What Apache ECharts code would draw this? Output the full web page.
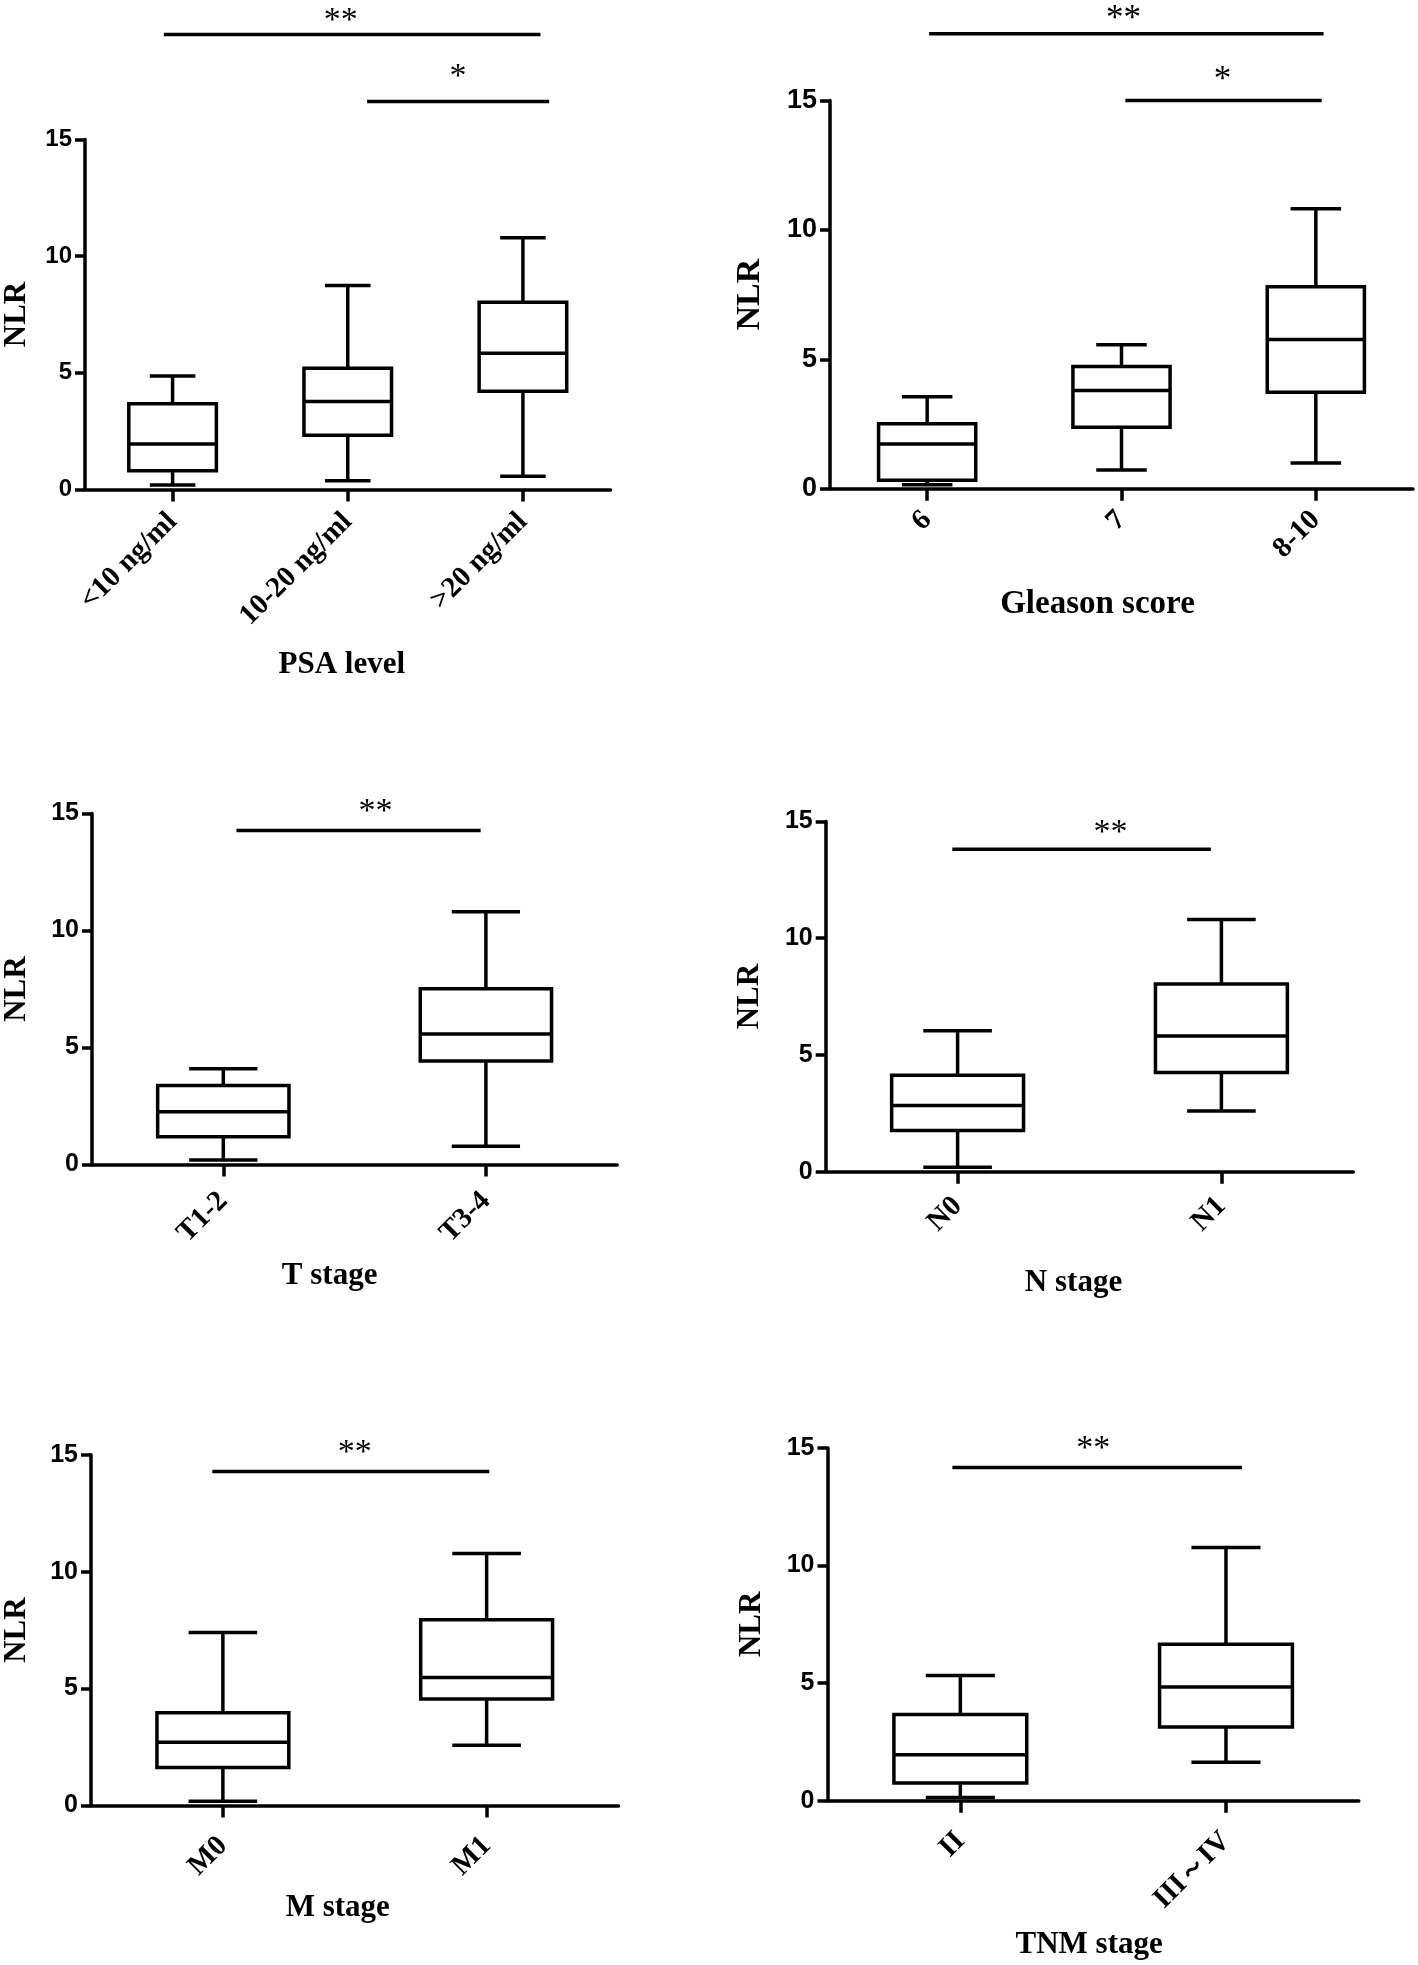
<!DOCTYPE html>
<html>
<head>
<meta charset="utf-8">
<script src="https://cdn.jsdelivr.net/npm/echarts@6/dist/echarts.min.js"></script>
<style>
html, body { margin: 0; padding: 0; background: #fff; }
#chart { width: 1418px; height: 1965px; }
</style>
</head>
<body>
<div id="chart"></div>
<script>
// ---------- DATA ----------
const yTickValues = [0, 5, 10, 15];
const yAxisTitle = 'NLR';

// box data: [lower whisker, Q1, median, Q3, upper whisker]
const psaCategories = ['<10 ng/ml', '10-20 ng/ml', '>20 ng/ml'];
const psaBoxes = [
  [0.19, 0.80, 1.95, 3.67, 4.86],
  [0.38, 2.33, 3.77, 5.20, 8.74],
  [0.57, 4.21, 5.84, 8.02, 10.79]
];
const gleasonCategories = ['6', '7', '8-10'];
const gleasonBoxes = [
  [0.16, 0.33, 1.73, 2.51, 3.56],
  [0.73, 2.38, 3.80, 4.72, 5.56],
  [1.00, 3.73, 5.77, 7.81, 10.82]
];
const tCategories = ['T1-2', 'T3-4'];
const tBoxes = [
  [0.20, 1.19, 2.26, 3.38, 4.10],
  [0.78, 4.43, 5.58, 7.51, 10.80]
];
const nCategories = ['N0', 'N1'];
const nBoxes = [
  [0.20, 1.77, 2.84, 4.13, 6.04],
  [2.60, 4.25, 5.81, 8.04, 10.80]
];
const mCategories = ['M0', 'M1'];
const mBoxes = [
  [0.18, 1.62, 2.70, 3.96, 7.40],
  [2.57, 4.55, 5.47, 7.94, 10.78]
];
const tnmCategories = ['II', 'III～IV'];
const tnmBoxes = [
  [0.14, 0.75, 1.95, 3.66, 5.32],
  [1.64, 3.13, 4.83, 6.65, 10.76]
];

// significance annotations (in data units: category index span, NLR level)
const psaSig = [
  { from: -0.05, to: 2.10, at: 19.5, mid: 0.96, labelAt: 20.37, label: '**' },
  { from: 1.11, to: 2.15, at: 16.63, mid: 1.63, labelAt: 17.95, label: '*' }
];
const gleasonSig = [
  { from: 0.01, to: 2.04, at: 17.58, mid: 1.01, labelAt: 18.4, label: '**' },
  { from: 1.02, to: 2.03, at: 15.0, mid: 1.52, labelAt: 16.02, label: '*' }
];
const tSig = [{ from: 0.05, to: 0.98, at: 14.27, mid: 0.58, labelAt: 15.34, label: '**' }];
const nSig = [{ from: -0.02, to: 0.96, at: 13.81, mid: 0.58, labelAt: 14.8, label: '**' }];
const mSig = [{ from: -0.04, to: 1.01, at: 14.29, mid: 0.50, labelAt: 15.35, label: '**' }];
const tnmSig = [{ from: -0.03, to: 1.06, at: 14.17, mid: 0.50, labelAt: 15.23, label: '**' }];

// ---------- STYLE / LAYOUT ----------
const SERIF = "'Liberation Serif', 'Times New Roman', serif";
const SANS = "'Liberation Sans', Arial, sans-serif";
const LW = 3.5;

const panels = [
  { title: 'PSA level', cats: psaCategories, boxes: psaBoxes, sig: psaSig,
    grid: { left: 83, top: 139.5, width: 527.5, height: 350 },
    tickFont: 24, catFont: 29, nameFont: 31, yNameFont: 31, starFont: 34,
    yNameGap: 53, xNameGap: 160, xNameShift: -6, labelMargin: 28 },
  { title: 'Gleason score', cats: gleasonCategories, boxes: gleasonBoxes, sig: gleasonSig,
    grid: { left: 830, top: 100.5, width: 583, height: 388.3 },
    tickFont: 27, catFont: 29, nameFont: 33, yNameFont: 34, starFont: 35,
    yNameGap: 63, xNameGap: 99, xNameShift: -24, labelMargin: 27 },
  { title: 'T stage', cats: tCategories, boxes: tBoxes, sig: tSig,
    grid: { left: 89.5, top: 813.5, width: 527.7, height: 351.1 },
    tickFont: 25, catFont: 29, nameFont: 31, yNameFont: 31, starFont: 34,
    yNameGap: 60, xNameGap: 96, xNameShift: -25, labelMargin: 32 },
  { title: 'N stage', cats: nCategories, boxes: nBoxes, sig: nSig,
    grid: { left: 825.7, top: 821.4, width: 527.6, height: 350.4 },
    tickFont: 25, catFont: 29, nameFont: 31, yNameFont: 31, starFont: 34,
    yNameGap: 60.5, xNameGap: 96, xNameShift: -16, labelMargin: 30 },
  { title: 'M stage', cats: mCategories, boxes: mBoxes, sig: mSig,
    grid: { left: 89.5, top: 1454.8, width: 529, height: 350.6 },
    tickFont: 25, catFont: 29, nameFont: 31, yNameFont: 31, starFont: 34,
    yNameGap: 59, xNameGap: 87, xNameShift: -17, labelMargin: 36 },
  { title: 'TNM stage', cats: tnmCategories, boxes: tnmBoxes, sig: tnmSig,
    grid: { left: 827.5, top: 1447.9, width: 531.3, height: 352.8 },
    tickFont: 25, catFont: 29, nameFont: 31, yNameFont: 31, starFont: 34,
    yNameGap: 60, xNameGap: 129, xNameShift: -4, labelMargin: 36 }
];

function renderBox(params, api) {
  const idx = api.value(0);
  const lo = api.coord([idx, api.value(1)]);
  const q1 = api.coord([idx, api.value(2)]);
  const med = api.coord([idx, api.value(3)]);
  const q3 = api.coord([idx, api.value(4)]);
  const hi = api.coord([idx, api.value(5)]);
  const band = api.size([1, 0])[0];
  const hw = band * 0.25, cw = band * 0.13;
  const x = lo[0];
  const st = { stroke: '#000', lineWidth: LW, fill: null };
  return {
    type: 'group',
    children: [
      { type: 'line', shape: { x1: x, y1: hi[1], x2: x, y2: q3[1] }, style: st },
      { type: 'line', shape: { x1: x, y1: q1[1], x2: x, y2: lo[1] }, style: st },
      { type: 'line', shape: { x1: x - cw, y1: hi[1], x2: x + cw, y2: hi[1] }, style: st },
      { type: 'line', shape: { x1: x - cw, y1: lo[1], x2: x + cw, y2: lo[1] }, style: st },
      { type: 'rect', shape: { x: x - hw, y: q3[1], width: 2 * hw, height: q1[1] - q3[1] },
        style: { stroke: '#000', lineWidth: LW, fill: '#fff' } },
      { type: 'line', shape: { x1: x - hw, y1: med[1], x2: x + hw, y2: med[1] }, style: st }
    ]
  };
}

function makeSigRenderer(p) {
  return function (params, api) {
    const s = p.sig[params.dataIndex];
    const band = api.size([1, 0])[0];
    const base = api.coord([0, s.at]);
    const lab = api.coord([0, s.labelAt]);
    const x0 = base[0];
    return {
      type: 'group',
      children: [
        { type: 'line', shape: { x1: x0 + s.from * band, y1: base[1], x2: x0 + s.to * band, y2: base[1] },
          style: { stroke: '#000', lineWidth: LW } },
        { type: 'text', x: x0 + s.mid * band, y: lab[1] + p.starFont * 0.2,
          style: { text: s.label, font: 'normal ' + p.starFont + 'px ' + SERIF, fill: '#000',
                   align: 'center', verticalAlign: 'middle' } }
      ]
    };
  };
}

const option = { backgroundColor: '#fff', animation: false, grid: [], xAxis: [], yAxis: [], series: [] };

panels.forEach((p, i) => {
  option.grid.push(Object.assign({ containLabel: false }, p.grid));
  const pad = p.xNameShift < 0 ? [0, -2 * p.xNameShift, 0, 0] : [0, 0, 0, 2 * p.xNameShift];
  option.xAxis.push({
    type: 'category', gridIndex: i, data: p.cats, boundaryGap: true,
    name: p.title, nameLocation: 'middle', nameGap: p.xNameGap,
    nameTextStyle: { fontFamily: SERIF, fontWeight: 'bold', fontSize: p.nameFont, color: '#000', padding: pad },
    axisLine: { show: true, lineStyle: { color: '#000', width: LW } },
    axisTick: { show: true, alignWithLabel: true, length: 12, lineStyle: { color: '#000', width: LW } },
    axisLabel: { interval: 0, rotate: 45, margin: p.labelMargin, fontFamily: SERIF, fontWeight: 'bold',
                 fontSize: p.catFont, color: '#000' },
    splitLine: { show: false }
  });
  option.yAxis.push({
    type: 'value', gridIndex: i,
    min: yTickValues[0], max: yTickValues[yTickValues.length - 1],
    interval: yTickValues[1] - yTickValues[0],
    name: yAxisTitle, nameLocation: 'middle', nameGap: p.yNameGap, nameRotate: 90,
    nameTextStyle: { fontFamily: SERIF, fontWeight: 'bold', fontSize: p.yNameFont, color: '#000' },
    axisLine: { show: true, lineStyle: { color: '#000', width: LW } },
    axisTick: { show: true, length: 10, lineStyle: { color: '#000', width: LW } },
    axisLabel: { margin: 13, fontFamily: SANS, fontWeight: 'bold', fontSize: p.tickFont, color: '#000' },
    splitLine: { show: false }
  });
  option.series.push({
    type: 'custom', xAxisIndex: i, yAxisIndex: i, renderItem: renderBox, clip: false, silent: true,
    data: p.boxes.map((b, j) => [j].concat(b)),
    encode: { x: 0, y: [1, 2, 3, 4, 5] }
  });
  option.series.push({
    type: 'custom', xAxisIndex: i, yAxisIndex: i, renderItem: makeSigRenderer(p), clip: false, silent: true,
    data: p.sig.map(s => [0, s.at]),
    encode: { x: 0, y: 1 }
  });
});

const chart = echarts.init(document.getElementById('chart'), null, { renderer: 'canvas' });
chart.setOption(option);
</script>
</body>
</html>
